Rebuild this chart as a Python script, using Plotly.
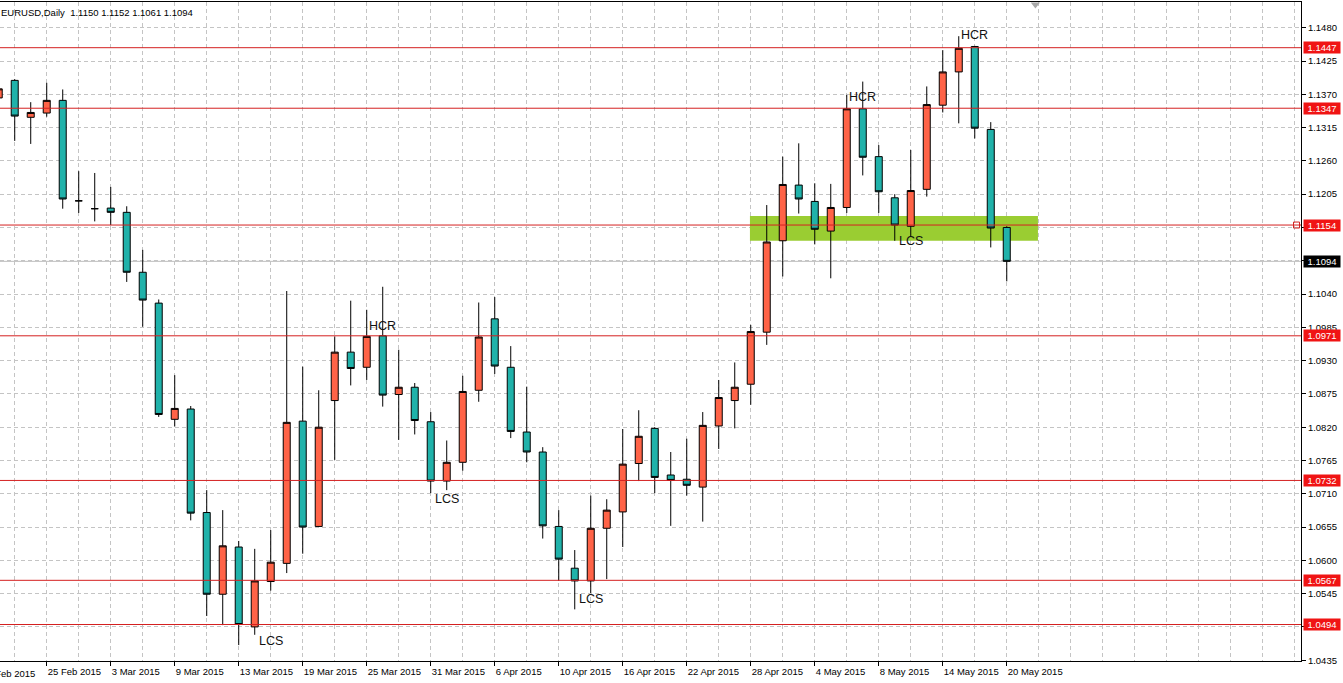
import pandas as pd
import plotly.graph_objects as go

# ---------------- data ----------------
dates = pd.bdate_range("2015-02-20", "2015-05-20")          # 64 daily bars
date_labels = [d.strftime("%-d %b %Y") for d in dates]

opens = [1.1364, 1.1393, 1.1332, 1.1339, 1.1360, 1.1194, 1.1181, 1.1182, 1.1175, 1.1076,
         1.1025, 1.0833, 1.0850, 1.0679, 1.0544, 1.0622, 1.0490, 1.0565, 1.0595, 1.0830,
         1.0656, 1.0864, 1.0944, 1.0919, 1.0971, 1.0874, 1.0886, 1.0829, 1.0731, 1.0762,
         1.0881, 1.0999, 1.0919, 1.0812, 1.0779, 1.0656, 1.0587, 1.0566, 1.0653, 1.0680,
         1.0760, 1.0818, 1.0741, 1.0734, 1.0721, 1.0822, 1.0864, 1.0891, 1.0977, 1.1128,
         1.1220, 1.1193, 1.1144, 1.1183, 1.1346, 1.1267, 1.1199, 1.1152, 1.1213, 1.1352,
         1.1407, 1.1449, 1.1312, 1.1150]
highs = [1.1390, 1.1395, 1.1357, 1.1389, 1.1378, 1.1243, 1.1240, 1.1217, 1.1185, 1.1113,
         1.1031, 1.0906, 1.0855, 1.0716, 1.0683, 1.0632, 1.0619, 1.0650, 1.1045, 1.0920,
         1.0881, 1.0970, 1.1029, 1.1014, 1.1052, 1.0948, 1.0893, 1.0845, 1.0798, 1.0905,
         1.1026, 1.1035, 1.0954, 1.0887, 1.0787, 1.0683, 1.0617, 1.0707, 1.0701, 1.0817,
         1.0848, 1.0820, 1.0779, 1.0801, 1.0845, 1.0898, 1.0927, 1.0989, 1.1187, 1.1267,
         1.1289, 1.1223, 1.1222, 1.1369, 1.1391, 1.1286, 1.1205, 1.1278, 1.1383, 1.1443,
         1.1466, 1.1450, 1.1324, 1.1152]
lows = [1.1358, 1.1293, 1.1288, 1.1333, 1.1181, 1.1174, 1.1160, 1.1154, 1.1060, 1.0986,
        1.0837, 1.0821, 1.0666, 1.0508, 1.0493, 1.0460, 1.0477, 1.0550, 1.0579, 1.0611,
        1.0655, 1.0766, 1.0889, 1.0898, 1.0854, 1.0799, 1.0808, 1.0711, 1.0716, 1.0748,
        1.0862, 1.0908, 1.0802, 1.0762, 1.0636, 1.0566, 1.0519, 1.0546, 1.0569, 1.0622,
        1.0731, 1.0711, 1.0657, 1.0707, 1.0664, 1.0784, 1.0818, 1.0857, 1.0956, 1.1069,
        1.1173, 1.1122, 1.1066, 1.1174, 1.1236, 1.1174, 1.1128, 1.1135, 1.1201, 1.1340,
        1.1322, 1.1297, 1.1117, 1.1061]
closes = [1.1379, 1.1334, 1.1340, 1.1360, 1.1197, 1.1194, 1.1181, 1.1175, 1.1076, 1.1030,
          1.0841, 1.0851, 1.0678, 1.0544, 1.0624, 1.0494, 1.0566, 1.0597, 1.0828, 1.0655,
          1.0820, 1.0944, 1.0917, 1.0970, 1.0873, 1.0886, 1.0831, 1.0731, 1.0762, 1.0879,
          1.0969, 1.0921, 1.0813, 1.0779, 1.0657, 1.0602, 1.0566, 1.0653, 1.0683, 1.0759,
          1.0805, 1.0737, 1.0732, 1.0724, 1.0823, 1.0869, 1.0886, 1.0978, 1.1126, 1.1221,
          1.1197, 1.1147, 1.1183, 1.1346, 1.1266, 1.1209, 1.1154, 1.1211, 1.1353, 1.1407,
          1.1446, 1.1314, 1.1149, 1.1094]

level_lines = [1.1447, 1.1347, 1.1154, 1.0971, 1.0732, 1.0567, 1.0494]
bid_price = 1.1094
zone_low, zone_high = 1.1128, 1.1169
zone_start_date = "2015-04-28"
zone_bars = 18

notes_text = ["HCR", "LCS", "LCS", "LCS", "HCR", "LCS", "HCR"]
notes_date = ["2015-03-26", "2015-03-17", "2015-04-01", "2015-04-14",
              "2015-05-07", "2015-05-12", "2015-05-18"]
notes_price = [1.0987, 1.0467, 1.0701, 1.0536, 1.1366, 1.1128, 1.1468]

header = "EURUSD,Daily&nbsp; 1.1150 1.1152 1.1061 1.1094"

# ---------------- layout constants ----------------
FONT = "Liberation Sans, Arial, sans-serif"
GRID = "#C4C4C4"
DASH = "4px,3px"
RED_LINE = "#D42020"
RED_BOX = "#F01414"
X_RANGE = [0.08, 81.39]
Y_RANGE = [1.04337, 1.15225]

x = list(range(len(dates)))
date_index = {d.strftime("%Y-%m-%d"): i for i, d in enumerate(dates)}

# tick labels every 4 bars ending on the last bar
tick_pos = list(range(len(dates) - 1, -1, -4))[::-1]
tick_txt = [date_labels[i] for i in tick_pos]
# the label one step before the first one (bar just left of the visible window)
prev_pos = tick_pos[0] - 4
prev_label = (dates[0] - pd.offsets.BDay(1)).strftime("%-d %b %Y")

fig = go.Figure()
fig.add_trace(go.Candlestick(
    x=x, open=opens, high=highs, low=lows, close=closes,
    increasing=dict(line=dict(color="black", width=1), fillcolor="#FF6347"),
    decreasing=dict(line=dict(color="black", width=1), fillcolor="#20B2AA"),
    whiskerwidth=0, showlegend=False, hoverinfo="x+y"))

# square marker at right end of the 1.1154 line
fig.add_trace(go.Scatter(x=[X_RANGE[1] - 0.28], y=[1.1154], mode="markers",
                         marker=dict(symbol="square-open", size=6, color=RED_LINE,
                                     line=dict(width=1)),
                         cliponaxis=False, showlegend=False, hoverinfo="skip"))
# chart-shift triangle at top
fig.add_trace(go.Scatter(x=[64.79], y=[Y_RANGE[1] - 0.0004], mode="markers",
                         marker=dict(symbol="triangle-down", size=8, color="#A8A8A8"),
                         cliponaxis=False, showlegend=False, hoverinfo="skip"))

shapes = []
z0 = date_index[zone_start_date] - 0.05
shapes.append(dict(type="rect", xref="x", yref="y", x0=z0, x1=z0 + zone_bars,
                   y0=zone_low, y1=zone_high, fillcolor="#9ACD32", line=dict(width=0),
                   layer="between"))
shapes.append(dict(type="line", xref="paper", yref="y", x0=0, x1=1, y0=bid_price, y1=bid_price,
                   line=dict(color="#BEBEBE", width=1), layer="between"))
for lv in level_lines:
    shapes.append(dict(type="line", xref="paper", yref="y", x0=0, x1=1, y0=lv, y1=lv,
                       line=dict(color=RED_LINE, width=1), layer="above"))

annotations = []
for lv in level_lines:
    annotations.append(dict(xref="paper", yref="y", x=1, y=lv, xanchor="left", yanchor="middle",
                            xshift=2, text=f"{lv:.4f}", showarrow=False, bgcolor=RED_BOX,
                            font=dict(color="white", size=9.5, family=FONT),
                            width=34, height=9, borderpad=1, align="center"))
annotations.append(dict(xref="paper", yref="y", x=1, y=bid_price, xanchor="left", yanchor="middle",
                        xshift=2, text=f"{bid_price:.4f}", showarrow=False, bgcolor="black",
                        font=dict(color="white", size=9.5, family=FONT),
                        width=34, height=9, borderpad=1, align="center"))
for t, d, p in zip(notes_text, notes_date, notes_price):
    annotations.append(dict(xref="x", yref="y", x=date_index[d], y=p, text=t, showarrow=False,
                            font=dict(size=12.5, family=FONT, color="#111111")))
annotations.append(dict(xref="paper", yref="paper", x=0, y=1, xanchor="left", yanchor="top",
                        xshift=-1, yshift=-3, text=header, showarrow=False,
                        font=dict(size=9.5, family=FONT, color="black")))
# partially visible first date label (left of the visible range), cut by the window edge
annotations.append(dict(xref="paper", yref="paper",
                        x=(prev_pos - X_RANGE[0]) / (X_RANGE[1] - X_RANGE[0]), y=0,
                        xanchor="left", yanchor="top", yshift=-5, xshift=-3,
                        text=prev_label, showarrow=False,
                        font=dict(size=9.5, family=FONT, color="black")))

fig.update_layout(
    width=1343, height=683,
    margin=dict(l=0, r=42, t=2, b=22),
    paper_bgcolor="white", plot_bgcolor="white",
    boxgap=0.375, showlegend=False,
    font=dict(family=FONT, size=9.5, color="black"),
    shapes=shapes, annotations=annotations,
    xaxis=dict(range=X_RANGE, tickmode="array", tickvals=tick_pos, ticktext=tick_txt,
               ticks="outside", ticklen=4, tickcolor="black", ticklabelposition="outside right",
               ticklabelstandoff=2,
               showline=True, linecolor="black", linewidth=1, mirror=True,
               showgrid=True, gridcolor=GRID, griddash=DASH, gridwidth=1,
               minor=dict(tickmode="linear", tick0=1, dtick=2, showgrid=True, gridcolor=GRID,
                          griddash=DASH, ticks=""),
               rangeslider=dict(visible=False), zeroline=False, fixedrange=True),
    yaxis=dict(side="right", range=Y_RANGE, tickmode="linear", tick0=1.0435, dtick=0.0055,
               tickformat=".4f", ticks="outside", ticklen=4, tickcolor="black",
               showline=True, linecolor="black", linewidth=1, mirror=False,
               showgrid=True, gridcolor=GRID, griddash=DASH, gridwidth=1,
               zeroline=False, fixedrange=True),
)

fig.write_html("out.html")
